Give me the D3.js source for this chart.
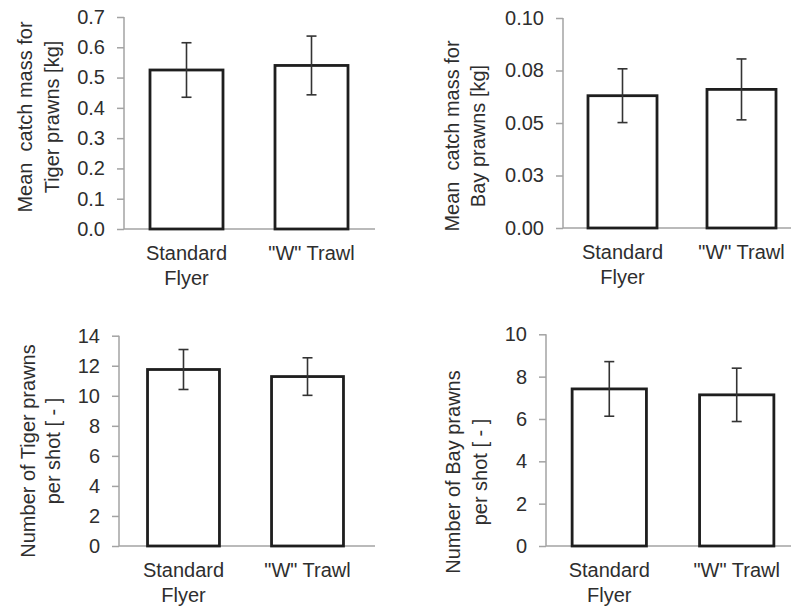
<!DOCTYPE html>
<html>
<head>
<meta charset="utf-8">
<script src="https://cdn.jsdelivr.net/npm/d3@7"></script>
<style>
  html, body { margin: 0; padding: 0; background: #fff; }
  svg { display: block; }
  text { font-family: "Liberation Sans", Arial, sans-serif; fill: #2e2e2e; }
</style>
</head>
<body>
<svg id="chart" width="791" height="607"></svg>
<script>
// ---- data ----
const categories = ["Standard Flyer", "\"W\" Trawl"];
const categoryLines = [["Standard", "Flyer"], ["\"W\" Trawl"]];

const tigerMass = [0.525, 0.540];
const tigerMassErr = [0.090, 0.097];
const tigerMassTicks = [0, 0.1, 0.2, 0.3, 0.4, 0.5, 0.6, 0.7];
const tigerMassTickLabels = ["0.0", "0.1", "0.2", "0.3", "0.4", "0.5", "0.6", "0.7"];

const bayMass = [0.063, 0.066];
const bayMassErr = [0.0128, 0.0145];
const bayMassTicks = [0, 0.025, 0.05, 0.075, 0.1];
const bayMassTickLabels = ["0.00", "0.03", "0.05", "0.08", "0.10"];

const tigerCount = [11.75, 11.28];
const tigerCountErr = [1.33, 1.25];
const tigerCountTicks = [0, 2, 4, 6, 8, 10, 12, 14];
const tigerCountTickLabels = ["0", "2", "4", "6", "8", "10", "12", "14"];

const bayCount = [7.42, 7.14];
const bayCountErr = [1.29, 1.26];
const bayCountTicks = [0, 2, 4, 6, 8, 10];
const bayCountTickLabels = ["0", "2", "4", "6", "8", "10"];

const titleTigerMass = ["Mean  catch mass for", "Tiger prawns [kg]"];
const titleBayMass = ["Mean  catch mass for", "Bay prawns [kg]"];
const titleTigerCount = ["Number of Tiger prawns", "per shot [ - ]"];
const titleBayCount = ["Number of Bay prawns", "per shot [ - ]"];

// ---- layout ----
const panels = [
  { values: tigerMass, errs: tigerMassErr, ticks: tigerMassTicks, labels: tigerMassTickLabels, title: titleTigerMass,
    x0: 124, x1: 374, axisEnd: 375, y0: 229, yTop: 17, pi: 0.416, po: 0.208, titleX: [25, 52], titleY: 117 },
  { values: bayMass, errs: bayMassErr, ticks: bayMassTicks, labels: bayMassTickLabels, title: titleBayMass,
    x0: 563, x1: 801, axisEnd: 791, y0: 228, yTop: 18, pi: 0.42, po: 0.21, titleX: [452, 478], titleY: 136 },
  { values: tigerCount, errs: tigerCountErr, ticks: tigerCountTicks, labels: tigerCountTickLabels, title: titleTigerCount,
    x0: 119, x1: 372, axisEnd: 375, y0: 546, yTop: 335.7, pi: 0.42, po: 0.23, titleX: [28, 53], titleY: 451 },
  { values: bayCount, errs: bayCountErr, ticks: bayCountTicks, labels: bayCountTickLabels, title: titleBayCount,
    x0: 546, x1: 800, axisEnd: 791, y0: 546, yTop: 334.3, pi: 0.417, po: 0.205, titleX: [453, 480], titleY: 472 }
];

const svg = d3.select("#chart");
const axisColor = "#a3a3a3";

panels.forEach(p => {
  const g = svg.append("g");
  const tmax = p.ticks[p.ticks.length - 1];
  const y = d3.scaleLinear().domain([0, tmax]).range([p.y0, p.yTop]);
  const x = d3.scaleBand().domain(categories).range([p.x0, p.x1])
    .paddingInner(p.pi).paddingOuter(p.po);

  // y axis
  const yAxis = d3.axisLeft(y).tickValues(p.ticks)
    .tickFormat((d, i) => p.labels[i]).tickSize(7).tickPadding(12);
  const ya = g.append("g").attr("transform", `translate(${p.x0},0)`).call(yAxis);
  ya.select(".domain").remove();
  ya.selectAll(".tick line").attr("stroke", axisColor).attr("stroke-width", 1.5);
  ya.selectAll(".tick text").attr("font-size", 20).attr("fill", "#2e2e2e")
    .attr("font-family", "Liberation Sans, Arial, sans-serif");

  // axis lines
  g.append("line").attr("x1", p.x0).attr("x2", p.x0).attr("y1", y(tmax)).attr("y2", p.y0)
    .attr("stroke", axisColor).attr("stroke-width", 1.5);
  g.append("line").attr("x1", p.x0).attr("x2", p.axisEnd).attr("y1", p.y0).attr("y2", p.y0)
    .attr("stroke", axisColor).attr("stroke-width", 1.5);

  // bars
  g.selectAll("rect.bar").data(p.values).join("rect")
    .attr("class", "bar")
    .attr("x", (d, i) => x(categories[i]))
    .attr("width", x.bandwidth())
    .attr("y", d => y(d))
    .attr("height", d => p.y0 - y(d))
    .attr("fill", "#fff").attr("stroke", "#1e1e1e").attr("stroke-width", 2.8);

  // error bars
  const cap = 5;
  p.values.forEach((v, i) => {
    const cx = x(categories[i]) + x.bandwidth() / 2;
    const hi = y(v + p.errs[i]), lo = y(v - p.errs[i]);
    g.append("line").attr("x1", cx).attr("x2", cx).attr("y1", hi).attr("y2", lo)
      .attr("stroke", "#333").attr("stroke-width", 1.6);
    [hi, lo].forEach(yy => g.append("line").attr("x1", cx - cap).attr("x2", cx + cap)
      .attr("y1", yy).attr("y2", yy).attr("stroke", "#333").attr("stroke-width", 1.6));
  });

  // category labels
  categories.forEach((c, i) => {
    const cx = x(c) + x.bandwidth() / 2;
    categoryLines[i].forEach((line, j) => {
      g.append("text").attr("x", cx).attr("y", p.y0 + 31 + j * 25)
        .attr("text-anchor", "middle").attr("font-size", 20).text(line);
    });
  });

  // y title
  p.title.forEach((line, j) => {
    g.append("text")
      .attr("transform", `translate(${p.titleX[j]},${p.titleY}) rotate(-90)`)
      .attr("text-anchor", "middle").attr("dy", "0.35em")
      .attr("font-size", 20).attr("xml:space", "preserve").style("white-space", "pre")
      .text(line);
  });
});
</script>
</body>
</html>
